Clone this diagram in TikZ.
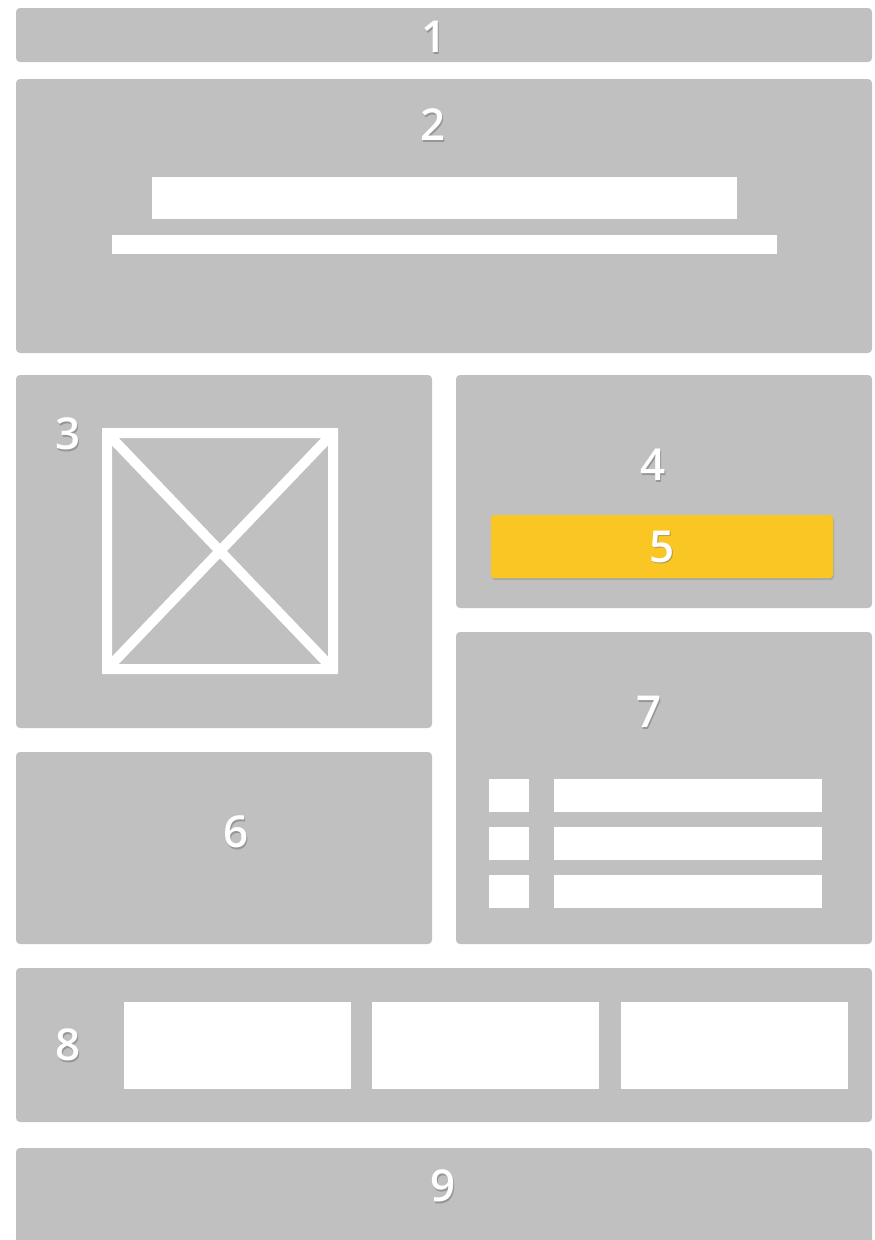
\documentclass[tikz,border=0pt]{standalone}
\usepackage{fontspec}
\setmainfont{Open Sans}
\newfontfamily\numfont{Open Sans Semibold}
\usetikzlibrary{shadows,calc}
\definecolor{panelgray}{RGB}{192,192,192}
\definecolor{btnyellow}{RGB}{250,198,35}
\definecolor{digitshade}{RGB}{110,110,110}

% number label with a soft shadow
\newcommand{\panelnum}[3]{%
  \node[digit,text=digitshade,opacity=0.5] at ($(#2)+(1.5,1.5)$) {#3};
  \node[digit] (#1) at (#2) {#3};}

\begin{document}
\begin{tikzpicture}[x=1pt,y=-1pt,
  panel/.style={fill=panelgray,rounded corners=4pt},
  bar/.style={fill=white},
  digit/.style={text=white,font=\numfont\fontsize{44}{44}\selectfont,inner sep=0pt}]
\useasboundingbox (0,0) rectangle (875,1240);
% panels
\fill[panel] (16,8) rectangle (872,62);
\fill[panel] (16,79) rectangle (872,353);
\fill[panel] (16,375) rectangle (432,728);
\fill[panel] (456,375) rectangle (872,608);
\fill[panel] (16,752) rectangle (432,944);
\fill[panel] (456,632) rectangle (872,944);
\fill[panel] (16,968) rectangle (872,1122);
\fill[panel] (16,1148) rectangle (872,1250);
% header bars
\fill[bar] (152,177) rectangle (737,219);
\fill[bar] (112,235) rectangle (777,254);
% image placeholder
\draw[white,line width=10pt] (107,433) rectangle (333,669)
  (107,433) -- (333,669) (333,433) -- (107,669);
% button
\fill[btnyellow,rounded corners=3pt,drop shadow={opacity=0.35,shadow xshift=1pt,shadow yshift=-2pt}]
  (491,515) rectangle (833,578);
% list rows
\foreach \y in {779,827,875}{
  \fill[bar] (489,\y) rectangle (529,\y+33);
  \fill[bar] (554,\y) rectangle (822,\y+33);
}
% gallery boxes
\foreach \x in {124,372,621}
  \fill[bar] (\x,1002) rectangle (\x+227,1089);
% numbers
\panelnum{n1}{434,37}{1}
\panelnum{n2}{433,125}{2}
\panelnum{n3}{68,434}{3}
\panelnum{n4}{653,465}{4}
\panelnum{n5}{662,547}{5}
\panelnum{n6}{236,832}{6}
\panelnum{n7}{649,712}{7}
\panelnum{n8}{68,1045}{8}
\panelnum{n9}{443,1186}{9}
\end{tikzpicture}
\end{document}
